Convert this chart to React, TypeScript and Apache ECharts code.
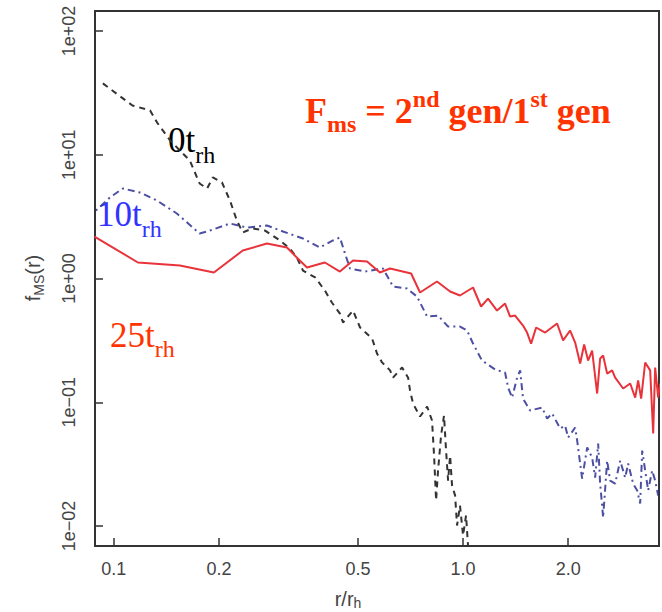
import React, { useEffect, useRef } from 'react';
import * as echarts from 'echarts';

// r / r_h values and f_MS(r) values
const r0 = [0.093, 0.113, 0.127, 0.133, 0.145, 0.165, 0.176, 0.185, 0.192, 0.204, 0.215, 0.225, 0.234, 0.249, 0.271, 0.299, 0.319, 0.334, 0.348, 0.377, 0.402, 0.421, 0.444, 0.453, 0.484, 0.507, 0.549, 0.567, 0.586, 0.618, 0.630, 0.669, 0.696, 0.705, 0.719, 0.753, 0.789, 0.815, 0.826, 0.837, 0.848, 0.865, 0.882, 0.894, 0.906, 0.918, 0.930, 0.949, 0.961, 0.980, 1.0, 1.02, 1.033, 1.047];
const f0 = [37.7, 25.0, 22.8, 18.2, 13.0, 8.98, 5.86, 5.34, 6.55, 5.97, 4.27, 2.94, 2.35, 2.54, 2.44, 2.03, 1.75, 1.48, 1.16, 1.02, 0.80, 0.640, 0.521, 0.441, 0.551, 0.402, 0.327, 0.248, 0.210, 0.181, 0.158, 0.191, 0.158, 0.124, 0.0977, 0.0767, 0.0924, 0.0712, 0.0371, 0.0161, 0.0281, 0.0539, 0.0781, 0.0407, 0.0233, 0.0371, 0.0212, 0.0176, 0.0101, 0.0146, 0.0084, 0.0122, 0.0070, 0.0053];

const r10 = [0.0888, 0.0974, 0.1061, 0.1187, 0.1328, 0.1515, 0.176, 0.1884, 0.215, 0.2405, 0.2744, 0.305, 0.348, 0.389, 0.424, 0.444, 0.459, 0.4745, 0.524, 0.590, 0.630, 0.691, 0.738, 0.789, 0.848, 0.906, 0.980, 1.027, 1.068, 1.133, 1.235, 1.319, 1.346, 1.382, 1.428, 1.457, 1.485, 1.556, 1.684, 1.741, 1.799, 1.897, 1.960, 2.000, 2.094, 2.122, 2.164, 2.193, 2.267, 2.342, 2.389, 2.437, 2.469, 2.502, 2.518, 2.586, 2.637, 2.726, 2.818, 2.912, 2.970, 3.070, 3.152, 3.215, 3.258, 3.323, 3.389, 3.479, 3.549, 3.620, 3.69];
const f10 = [3.544, 4.513, 5.34, 4.954, 4.27, 3.352, 2.310, 2.44, 2.783, 2.583, 2.681, 2.398, 2.105, 1.781, 2.03, 2.145, 1.592, 1.205, 1.139, 1.205, 0.862, 0.830, 0.715, 0.493, 0.502, 0.409, 0.409, 0.380, 0.298, 0.2175, 0.184, 0.174, 0.1316, 0.1092, 0.158, 0.181, 0.1072, 0.0858, 0.0907, 0.0739, 0.0811, 0.0614, 0.0649, 0.0519, 0.0625, 0.0491, 0.0320, 0.0242, 0.0431, 0.0358, 0.0246, 0.0464, 0.0220, 0.0146, 0.0117, 0.0338, 0.0233, 0.0220, 0.0338, 0.0246, 0.0320, 0.0220, 0.0194, 0.0152, 0.0407, 0.0281, 0.0194, 0.0281, 0.0233, 0.0176, 0.0233];

const r25 = [0.088, 0.1172, 0.1546, 0.1934, 0.234, 0.2744, 0.3131, 0.334, 0.3573, 0.402, 0.444, 0.484, 0.531, 0.578, 0.618, 0.710, 0.753, 0.842, 0.918, 0.980, 1.068, 1.126, 1.179, 1.251, 1.319, 1.364, 1.409, 1.485, 1.525, 1.566, 1.619, 1.718, 1.859, 1.934, 2.026, 2.094, 2.164, 2.222, 2.281, 2.342, 2.421, 2.469, 2.518, 2.586, 2.673, 2.726, 2.874, 3.010, 3.111, 3.172, 3.236, 3.323, 3.434, 3.503, 3.549, 3.620, 3.668];
const f25 = [2.185, 1.347, 1.274, 1.118, 1.684, 1.918, 1.781, 1.48, 1.227, 1.347, 1.139, 1.398, 1.372, 1.118, 1.205, 1.098, 0.771, 0.946, 0.785, 0.729, 0.846, 0.594, 0.689, 0.551, 0.628, 0.493, 0.502, 0.417, 0.366, 0.298, 0.402, 0.366, 0.433, 0.316, 0.380, 0.304, 0.2056, 0.293, 0.2175, 0.262, 0.1177, 0.2257, 0.2386, 0.1707, 0.181, 0.158, 0.1292, 0.1418, 0.1092, 0.150, 0.1072, 0.2096, 0.181, 0.0559, 0.191, 0.1092, 0.1418];

const xTickValues = [0.1, 0.2, 0.5, 1.0, 2.0];
const xTickLabels = ['0.1', '0.2', '0.5', '1.0', '2.0'];
const yTickValues = [0.01, 0.1, 1, 10, 100];
const yTickLabels = ['1e\u221202', '1e\u221201', '1e+00', '1e+01', '1e+02'];
const xRange = [0.0883, 3.64];
const yRange = [0.0069, 145];

const pairs = (xs: number[], ys: number[]) => xs.map((x, i) => [x, ys[i]]);
const findLabel = (vals: number[], labels: string[], v: number) => {
  const i = vals.findIndex((t) => Math.abs(t - v) / t < 1e-6);
  return i >= 0 ? labels[i] : '';
};

const SERIF = '"Liberation Serif", "Times New Roman", serif';
const SANS = '"Liberation Sans", Arial, Helvetica, sans-serif';

export default function App() {
  const ref = useRef<HTMLDivElement>(null);
  useEffect(() => {
    if (!ref.current) return;
    const chart = echarts.init(ref.current, null, { renderer: 'svg' });
    const tickStyle = { color: '#333', width: 1.5 };
    const lbl = (size: number, color: string, bold = false, family = SERIF, padding?: number[]) => ({
      fontSize: size,
      fontFamily: family,
      fontWeight: bold ? 'bold' : 'normal',
      fill: color,
      ...(padding ? { padding } : {}),
    });
    chart.setOption({
      animation: false,
      backgroundColor: '#ffffff',
      grid: {
        left: 95,
        top: 11,
        right: 3,
        bottom: 66,
        show: true,
        borderColor: '#333',
        borderWidth: 2,
        backgroundColor: 'transparent',
      },
      xAxis: {
        type: 'log',
        min: xRange[0],
        max: xRange[1],
        axisLine: { show: false },
        splitLine: { show: false },
        axisTick: { show: true, inside: true, length: 8, lineStyle: tickStyle, customValues: xTickValues },
        axisLabel: {
          customValues: xTickValues,
          margin: 14,
          fontSize: 18,
          color: '#444',
          fontFamily: SANS,
          formatter: (v: number) => findLabel(xTickValues, xTickLabels, v),
        },
      },
      yAxis: {
        type: 'log',
        min: yRange[0],
        max: yRange[1],
        axisLine: { show: false },
        splitLine: { show: false },
        axisTick: { show: true, inside: true, length: 8, lineStyle: tickStyle, customValues: yTickValues },
        axisLabel: {
          customValues: yTickValues,
          rotate: 90,
          margin: 17,
          fontSize: 18,
          color: '#444',
          fontFamily: SANS,
          formatter: (v: number) => findLabel(yTickValues, yTickLabels, v),
        },
      },
      series: [
        {
          type: 'line',
          data: pairs(r10, f10),
          symbol: 'none',
          clip: true,
          lineStyle: { color: '#2e3192', width: 2, type: [2, 4, 7, 4], opacity: 0.85 },
        },
        {
          type: 'line',
          data: pairs(r0, f0),
          symbol: 'none',
          clip: true,
          lineStyle: { color: '#333', width: 2, type: [6, 5] },
        },
        {
          type: 'line',
          data: pairs(r25, f25),
          symbol: 'none',
          clip: true,
          lineStyle: { color: '#e8333a', width: 2, type: 'solid' },
        },
      ],
      graphic: [
        {
          type: 'text',
          x: 305,
          y: 111,
          style: {
            text: '{m|F}{sub|ms}{m| = 2}{sup|nd}{m| gen/1}{sup|st}{m| gen}',
            align: 'left',
            verticalAlign: 'middle',
            rich: {
              m: lbl(36, '#ff3300', true),
              sub: lbl(24, '#ff3300', true, SERIF, [26, 0, 0, 0]),
              sup: lbl(24, '#ff3300', true, SERIF, [0, 0, 25, 0]),
            },
          },
        },
        {
          type: 'text',
          x: 168,
          y: 140,
          style: {
            text: '{m|0t}{s|rh}',
            align: 'left',
            verticalAlign: 'middle',
            rich: { m: lbl(35, '#000000'), s: lbl(24, '#000000', false, SERIF, [30, 0, 0, 0]) },
          },
        },
        {
          type: 'text',
          x: 97,
          y: 214,
          style: {
            text: '{m|10t}{s|rh}',
            align: 'left',
            verticalAlign: 'middle',
            rich: { m: lbl(35, '#3333ff'), s: lbl(24, '#3333ff', false, SERIF, [30, 0, 0, 0]) },
          },
        },
        {
          type: 'text',
          x: 110,
          y: 335,
          style: {
            text: '{m|25t}{s|rh}',
            align: 'left',
            verticalAlign: 'middle',
            rich: { m: lbl(35, '#ff3300'), s: lbl(24, '#ff3300', false, SERIF, [28, 0, 0, 0]) },
          },
        },
        {
          type: 'text',
          x: 33,
          y: 278,
          rotation: Math.PI / 2,
          style: {
            text: '{m|f}{s|MS}{m|(r)}',
            align: 'center',
            verticalAlign: 'middle',
            rich: { m: lbl(20, '#444', false, SANS), s: lbl(14, '#444', false, SANS, [12, 0, 0, 0]) },
          },
        },
        {
          type: 'text',
          x: 348,
          y: 599,
          style: {
            text: '{m|r/r}{s|h}',
            align: 'center',
            verticalAlign: 'middle',
            rich: { m: lbl(20, '#444', false, SANS), s: lbl(14, '#444', false, SANS, [8, 0, 0, 0]) },
          },
        },
      ],
    });
    return () => chart.dispose();
  }, []);
  return (
    <div
      ref={ref}
      style={{ position: 'fixed', left: 0, top: 0, width: 662, height: 612, background: '#fff' }}
    />
  );
}
